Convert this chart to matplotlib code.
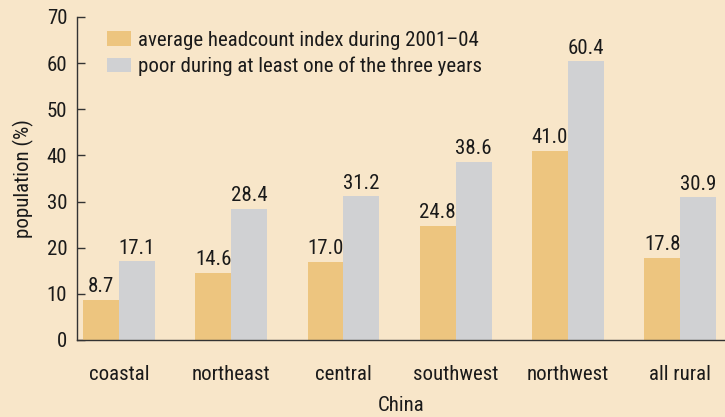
import matplotlib
matplotlib.use("Agg")
import matplotlib.pyplot as plt
import numpy as np

categories = ["coastal", "northeast", "central", "southwest", "northwest", "all rural"]
avg_headcount = [8.7, 14.6, 17.0, 24.8, 41.0, 17.8]
poor_once = [17.1, 28.4, 31.2, 38.6, 60.4, 30.9]
series_labels = ["average headcount index during 2001\u201304",
                 "poor during at least one of the three years"]
yticks = [0, 10, 20, 30, 40, 50, 60, 70]

plt.rcParams['font.family'] = ['Roboto Condensed', 'DejaVu Sans']
BG = "#f8e6c9"
C1 = "#edc57f"
C2 = "#d0d1d3"
TXT = "#1a1a1a"
FS = 15

fig = plt.figure(figsize=(7.25, 4.17), dpi=100, facecolor=BG)
ax = fig.add_axes([0.1062, 0.1847, 0.8938, 0.7746], facecolor=BG)

x = np.arange(len(categories))
w = 0.32
b1 = ax.bar(x - w/2, avg_headcount, w, color=C1, label=series_labels[0], zorder=2)
b2 = ax.bar(x + w/2, poor_once, w, color=C2, label=series_labels[1], zorder=2)

for bars, vals in ((b1, avg_headcount), (b2, poor_once)):
    for r, v in zip(bars, vals):
        ax.annotate(f"{v:.1f}", (r.get_x() + r.get_width()/2, v),
                    xytext=(0, 2.5), textcoords="offset points",
                    ha="center", va="bottom", fontsize=FS, color=TXT)

ax.set_xlim(-0.375, 5.4)
ax.set_ylim(0, 70)
ax.set_yticks(yticks)
ax.set_xticks(x)
ax.set_xticklabels(categories)
ax.tick_params(axis='y', direction='in', length=6, width=1, color="#333333",
               labelsize=FS, labelcolor=TXT, pad=7)
ax.tick_params(axis='x', length=0, labelsize=FS, labelcolor=TXT, pad=18)
for s in ("top", "right"):
    ax.spines[s].set_visible(False)
for s in ("left", "bottom"):
    ax.spines[s].set_color("#333333")
    ax.spines[s].set_linewidth(1.0)

ax.set_ylabel("population (%)", fontsize=FS, color=TXT, labelpad=9)
ax.set_xlabel("China", fontsize=FS, color=TXT, labelpad=9)

leg = ax.legend(loc="upper left", bbox_to_anchor=(0.046, 0.958), frameon=False,
                fontsize=FS, handlelength=1.15, handleheight=0.7,
                handletextpad=0.35, labelspacing=0.35, borderaxespad=0,
                borderpad=0)
for t in leg.get_texts():
    t.set_color(TXT)

fig.savefig("out.png", dpi=100, facecolor=BG)
